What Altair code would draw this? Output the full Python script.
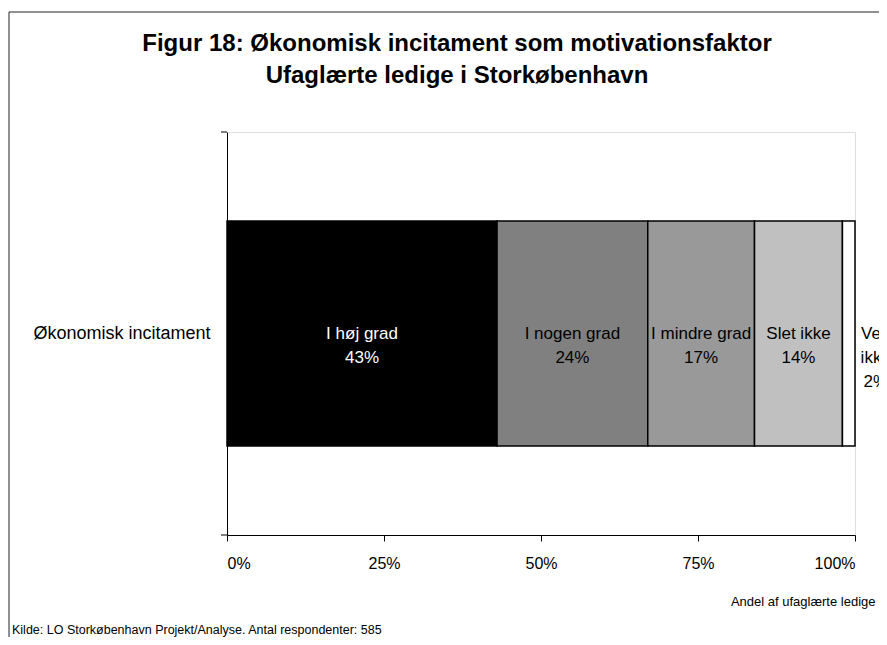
import altair as alt
import pandas as pd

row_label = "Økonomisk incitament"
categories = ["I høj grad", "I nogen grad", "I mindre grad", "Slet ikke", "Ved ikke"]
values = [43, 24, 17, 14, 2]
label_lines = ["I høj grad", "I nogen grad", "I mindre grad", "Slet ikke", "Ved\nikke"]
bar_colors = ["#000000", "#808080", "#999999", "#c0c0c0", "#ffffff"]
text_colors = ["#ffffff", "#000000", "#000000", "#000000", "#000000"]
x_ticks = [0, 25, 50, 75, 100]
title_lines = ["Figur 18: Økonomisk incitament som motivationsfaktor",
               "Ufaglærte ledige i Storkøbenhavn"]
x_title = "Andel af ufaglærte ledige"
source_note = "Kilde: LO Storkøbenhavn Projekt/Analyse. Antal respondenter: 585"

FONT = "Liberation Sans"
W, H = 628, 403

starts, ends = [], []
acc = 0
for v in values:
    starts.append(acc)
    acc += v
    ends.append(acc)

df = pd.DataFrame({
    "row": [row_label] * len(categories),
    "cat": categories,
    "value": values,
    "start": starts,
    "end": ends,
    "mid": [(s + e) / 2 for s, e in zip(starts, ends)],
    "label": [f"{l}\n{v}%" for l, v in zip(label_lines, values)],
    "tcolor": text_colors,
})

xscale = alt.Scale(domain=[0, 100], nice=False, zero=True)
yscale = alt.Scale(paddingOuter=0.3956, paddingInner=0)

base = alt.Chart(df)

bars = base.mark_bar(stroke="#000000", strokeWidth=1.5).encode(
    x=alt.X("start:Q", scale=xscale,
            axis=alt.Axis(values=x_ticks, labelExpr="datum.value + '%'", grid=False,
                          tickSize=6, tickColor="#000", domainColor="#000",
                          labelFontSize=16, labelColor="#000", labelPadding=14,
                          labelFont=FONT, title=x_title, titleFont=FONT,
                          titleFontSize=13, titleFontWeight="normal", titleColor="#000",
                          titleX=648, titleY=66, titleAlign="right",
                          titleBaseline="middle", titleAnchor="end")),
    x2="end:Q",
    y=alt.Y("row:N", scale=yscale,
            axis=alt.Axis(title=None, ticks=False, domainColor="#000",
                          labelFontSize=18, labelColor="#000", labelFont=FONT,
                          labelPadding=17)),
    color=alt.Color("cat:N", scale=alt.Scale(domain=categories, range=bar_colors), legend=None),
)

labels = base.transform_filter(alt.datum.cat != "Ved ikke").mark_text(
    fontSize=17, font=FONT, lineBreak="\n", lineHeight=24, align="center", baseline="middle"
).encode(
    x=alt.X("mid:Q", scale=xscale),
    y=alt.Y("row:N", scale=yscale),
    text="label:N",
    color=alt.Color("tcolor:N", scale=None),
)

last_label = base.transform_filter(alt.datum.cat == "Ved ikke").mark_text(
    fontSize=17, font=FONT, lineBreak="\n", lineHeight=24, align="center",
    baseline="middle", dx=27
).encode(
    x=alt.X("mid:Q", scale=xscale),
    y=alt.Y("row:N", scale=yscale),
    text="label:N",
    color=alt.Color("tcolor:N", scale=None),
)

one = alt.Chart(pd.DataFrame({"k": [0]}))

frame = one.mark_rect(fillOpacity=0, stroke="#222222", strokeWidth=1).encode(
    x=alt.value(-218), x2=alt.value(W + 40), y=alt.value(-120), y2=alt.value(H + 130)
)
tick_top = one.mark_rule(color="#000").encode(
    x=alt.value(-6), x2=alt.value(0), y=alt.value(0))
tick_bot = one.mark_rule(color="#000").encode(
    x=alt.value(-6), x2=alt.value(0), y=alt.value(H))

title1 = one.mark_text(fontSize=24, fontWeight="bold", font=FONT, align="center",
                       baseline="alphabetic", color="#000").encode(
    x=alt.value(230), y=alt.value(-81), text=alt.value(title_lines[0]))
title2 = one.mark_text(fontSize=24, fontWeight="bold", font=FONT, align="center",
                       baseline="alphabetic", color="#000").encode(
    x=alt.value(230), y=alt.value(-49), text=alt.value(title_lines[1]))
footer = one.mark_text(fontSize=12.5, font=FONT, align="left", baseline="middle",
                       color="#000").encode(
    x=alt.value(-215), y=alt.value(498), text=alt.value(source_note))

chart = alt.layer(frame, bars, labels, last_label, tick_top, tick_bot, title1, title2, footer).properties(
    width=W, height=H,
    autosize=alt.AutoSizeParams(type="none"),
    padding={"left": 219, "top": 124, "right": 24, "bottom": 102},
).configure_view(stroke=None).configure(font=FONT)

chart.save("out.html", embed_options={"renderer": "svg", "actions": False})
